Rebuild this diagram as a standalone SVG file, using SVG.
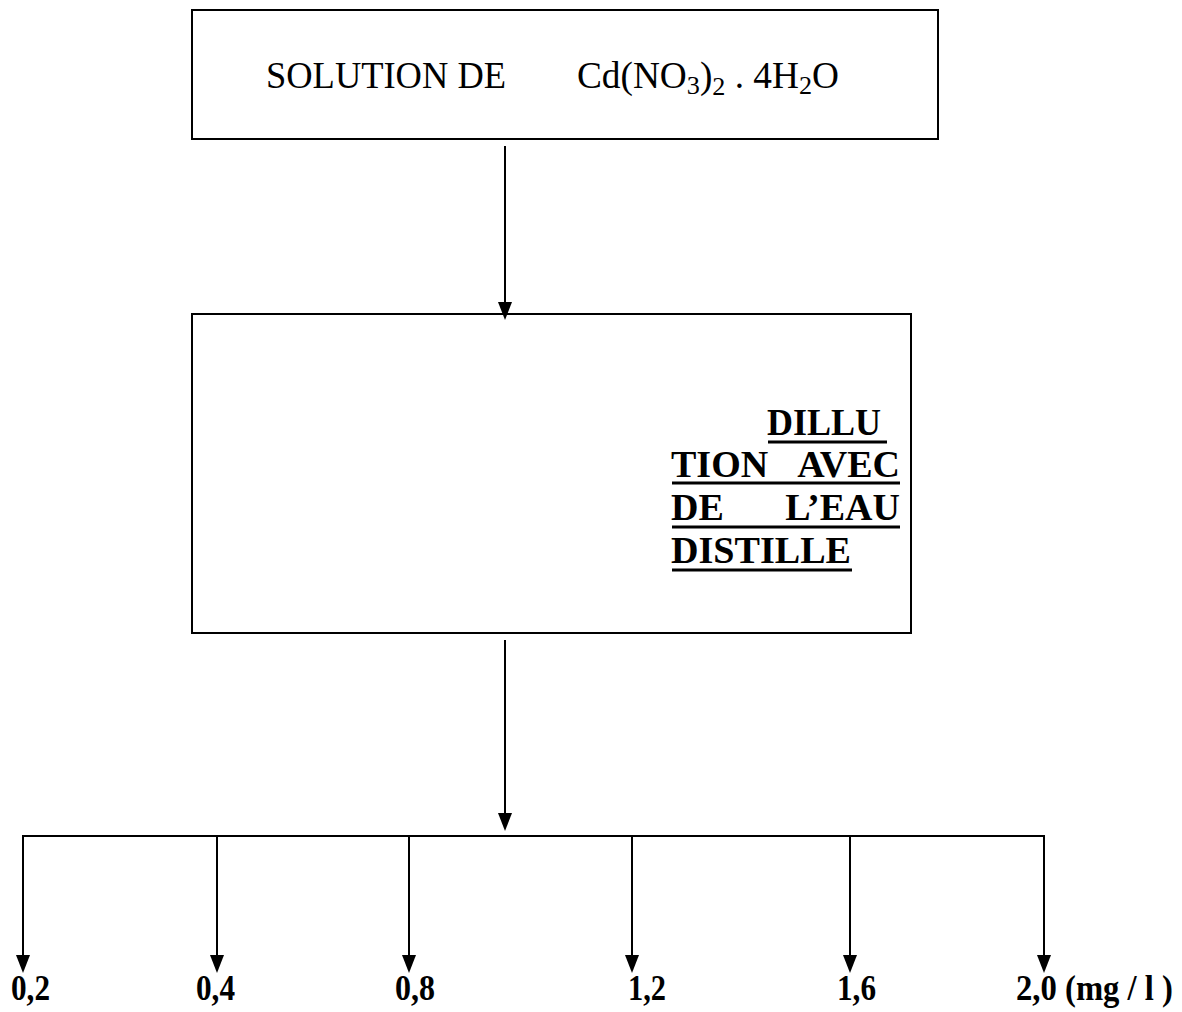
<svg xmlns="http://www.w3.org/2000/svg" width="1182" height="1012" viewBox="0 0 1182 1012">
<defs>
<style>
.box{fill:#fff;stroke:#000;stroke-width:2}
.ln{stroke:#000;stroke-width:2;fill:none}
.hd{fill:#000}
.t{font-family:"Liberation Serif",serif;font-size:37px;fill:#000}
.b{font-family:"Liberation Serif",serif;font-size:38px;font-weight:bold;fill:#000}
.lbl{font-family:"Liberation Serif",serif;font-size:35px;font-weight:bold;fill:#000}
.ul{stroke:#000;stroke-width:3}
</style>
</defs>
<rect width="1182" height="1012" fill="#fff"/>
<g id="node-solution">
<rect class="box" x="192" y="10" width="746" height="129"/>
<text class="t" x="266" y="88" textLength="240" lengthAdjust="spacingAndGlyphs">SOLUTION DE</text>
<text class="t" x="577" y="88" textLength="262" lengthAdjust="spacingAndGlyphs">Cd(NO<tspan font-size="26" dy="6">3</tspan><tspan dy="-6">)</tspan><tspan font-size="26" dy="7">2</tspan><tspan dy="-7"> . 4H</tspan><tspan font-size="26" dy="6">2</tspan><tspan dy="-6">O</tspan></text>
</g>
<g id="node-dilution">
<rect class="box" x="192" y="314" width="719" height="319"/>
<text class="b" x="767" y="435" textLength="114" lengthAdjust="spacingAndGlyphs">DILLU</text>
<line class="ul" x1="768" y1="442" x2="887" y2="442"/>
<text class="b" x="671" y="477">TION</text>
<text class="b" x="900" y="477" text-anchor="end">AVEC</text>
<line class="ul" x1="672" y1="483" x2="900" y2="483"/>
<text class="b" x="671" y="520">DE</text>
<text class="b" x="900" y="520" text-anchor="end">L’EAU</text>
<line class="ul" x1="672" y1="527" x2="900" y2="527"/>
<text class="b" x="671" y="563" textLength="180" lengthAdjust="spacingAndGlyphs">DISTILLE</text>
<line class="ul" x1="672" y1="570" x2="852" y2="570"/>
</g>
<g id="connectors">
<line class="ln" x1="505" y1="146" x2="505" y2="304"/>
<polygon class="hd" points="498,302 512,302 505,320"/>
<line class="ln" x1="505" y1="640" x2="505" y2="816"/>
<polygon class="hd" points="498,813 512,813 505,831"/>
<polyline class="ln" points="23,960 23,836 1044,836 1044,960"/>
<line class="ln" x1="217" y1="836" x2="217" y2="960"/>
<line class="ln" x1="409" y1="836" x2="409" y2="960"/>
<line class="ln" x1="632" y1="836" x2="632" y2="960"/>
<line class="ln" x1="850" y1="836" x2="850" y2="960"/>
<polygon class="hd" points="16,955 30,955 23,973"/>
<polygon class="hd" points="210,955 224,955 217,973"/>
<polygon class="hd" points="402,955 416,955 409,973"/>
<polygon class="hd" points="625,955 639,955 632,973"/>
<polygon class="hd" points="843,955 857,955 850,973"/>
<polygon class="hd" points="1037,955 1051,955 1044,973"/>
</g>
<g id="labels">
<text class="lbl" x="11" y="1000" textLength="39" lengthAdjust="spacingAndGlyphs">0,2</text>
<text class="lbl" x="196" y="1000" textLength="39" lengthAdjust="spacingAndGlyphs">0,4</text>
<text class="lbl" x="395" y="1000" textLength="40" lengthAdjust="spacingAndGlyphs">0,8</text>
<text class="lbl" x="628" y="1000" textLength="38" lengthAdjust="spacingAndGlyphs">1,2</text>
<text class="lbl" x="837" y="1000" textLength="39" lengthAdjust="spacingAndGlyphs">1,6</text>
<text class="lbl" x="1016" y="1000" textLength="157" lengthAdjust="spacingAndGlyphs">2,0 (mg / l )</text>
</g>
</svg>
